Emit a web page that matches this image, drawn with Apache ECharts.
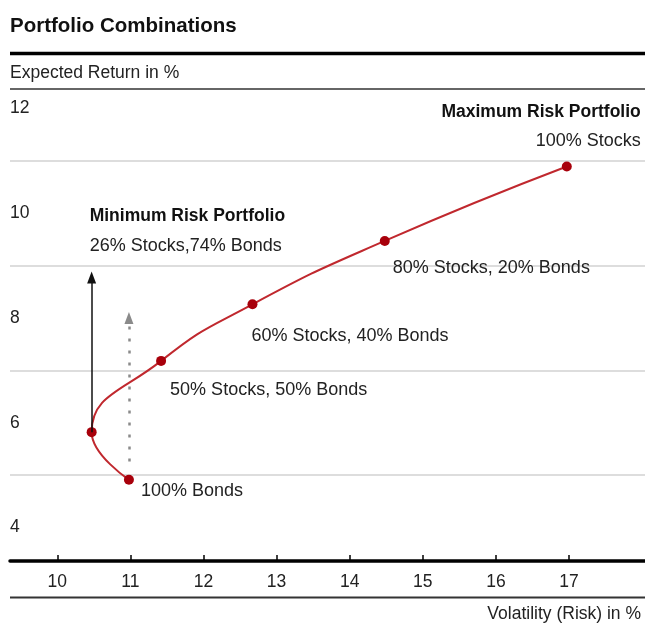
<!DOCTYPE html>
<html>
<head>
<meta charset="utf-8">
<script src="https://cdn.jsdelivr.net/npm/echarts@6/dist/echarts.min.js"></script>
<style>
  html, body { margin: 0; padding: 0; background: #fff; }
  #chart { width: 645px; height: 626px; }
</style>
</head>
<body>
<div id="chart"></div>
<script>
// portfolio mixes along the efficient frontier
const portfolios = ['100% Bonds', '26% Stocks,74% Bonds', '50% Stocks, 50% Bonds', '60% Stocks, 40% Bonds', '80% Stocks, 20% Bonds', '100% Stocks']
const headings = ['', 'Minimum Risk Portfolio', '', '', '', 'Maximum Risk Portfolio']
const volatility = [10.98, 10.47, 11.42, 12.67, 14.48, 16.97]
const expectedReturn = [4.91, 5.82, 7.18, 8.26, 9.47, 10.89]

const xTicks = [10, 11, 12, 13, 14, 15, 16, 17]
const yLabels = [4, 6, 8, 10, 12]
const yGrid = [5, 7, 9, 11]

// arrows: [x, from y, to y]
const minRiskArrow = [10.47, 5.82, 8.77]
const bondsArrow = [10.98, 5.26, 8.0]

// label placement relative to each marker (pixels) - layout only
const labelPos = [[17, 16], [3, -196], [14, 34], [4, 37], [13, 32], [79, -35]]

const font = "'Liberation Sans', Arial, Helvetica, sans-serif"
const textColor = '#222'

const chart = echarts.init(document.getElementById('chart'))

const points = volatility.map((v, i) => ({
  value: [v, expectedReturn[i]],
  name: portfolios[i],
  label: {
    show: true,
    position: labelPos[i],
    align: i === 5 ? 'right' : 'left',
    verticalAlign: 'middle',
    formatter: headings[i] ? '{b|' + headings[i] + '}\n{n|' + portfolios[i] + '}' : '{n|' + portfolios[i] + '}'
  }
}))

chart.setOption({
  animation: false,
  textStyle: { fontFamily: font },
  title: [
    {
      text: 'Portfolio Combinations', left: 10, top: 16, padding: 0,
      textStyle: { fontFamily: font, fontSize: 20.5, fontWeight: 'bold', color: '#111' }
    },
    {
      text: 'Volatility (Risk) in %', right: 4, top: 605, padding: 0,
      textStyle: { fontFamily: font, fontSize: 17.5, fontWeight: 'normal', color: textColor }
    }
  ],
  graphic: [
    { type: 'line', shape: { x1: 10, y1: 53.5, x2: 645, y2: 53.5 }, style: { stroke: '#000', lineWidth: 3.5 } },
    { type: 'line', shape: { x1: 10, y1: 89, x2: 645, y2: 89 }, style: { stroke: '#333', lineWidth: 1.5 } },
    { type: 'line', shape: { x1: 10, y1: 597.5, x2: 645, y2: 597.5 }, style: { stroke: '#333', lineWidth: 2 } }
  ],
  grid: { left: 10, right: 0, top: 89, bottom: 65 },
  xAxis: {
    type: 'value', min: 9.353, max: 18.04,
    axisLine: { lineStyle: { color: '#000', width: 3.5 } },
    axisTick: { inside: true, length: 6, customValues: xTicks, lineStyle: { color: '#000', width: 1.5 } },
    axisLabel: { customValues: xTicks, margin: 12, fontSize: 17.5, color: textColor, fontFamily: font },
    splitLine: { show: false }
  },
  yAxis: {
    type: 'value', min: 3.36, max: 12.37,
    name: 'Expected Return in %', nameLocation: 'end', nameGap: 16,
    nameTextStyle: { align: 'left', verticalAlign: 'middle', fontSize: 17.5, color: textColor, fontFamily: font },
    axisLine: { show: false },
    axisTick: { show: false, customValues: yGrid },
    splitLine: { show: true, lineStyle: { color: '#d2d2d2', width: 1.5 } },
    axisLabel: {
      inside: true, margin: 0, customValues: yLabels, fontSize: 17.5, color: textColor, fontFamily: font,
      verticalAlign: 'middle', padding: [4, 0, 0, 0]
    }
  },
  series: [{
    type: 'line',
    smooth: 0.5,
    symbol: 'circle',
    symbolSize: 10,
    lineStyle: { color: '#c0282e', width: 2 },
    itemStyle: { color: '#a8000b' },
    label: {
      color: textColor,
      rich: {
        b: { fontFamily: font, fontSize: 17.5, fontWeight: 'bold', color: '#111', lineHeight: 29 },
        n: { fontFamily: font, fontSize: 18, color: textColor, lineHeight: 29 }
      }
    },
    emphasis: { disabled: true },
    data: points,
    markLine: {
      silent: true,
      symbol: ['none', 'triangle'],
      symbolSize: [9, 12],
      label: { show: false },
      emphasis: { disabled: true },
      data: [
        [
          { coord: [minRiskArrow[0], minRiskArrow[1]], lineStyle: { color: '#111', width: 1.5, type: 'solid' } },
          { coord: [minRiskArrow[0], minRiskArrow[2]] }
        ],
        [
          { coord: [bondsArrow[0], bondsArrow[1]], lineStyle: { color: '#8a8a8a', width: 2.5, type: [3, 9] } },
          { coord: [bondsArrow[0], bondsArrow[2]] }
        ]
      ]
    }
  }]
})
</script>
</body>
</html>
